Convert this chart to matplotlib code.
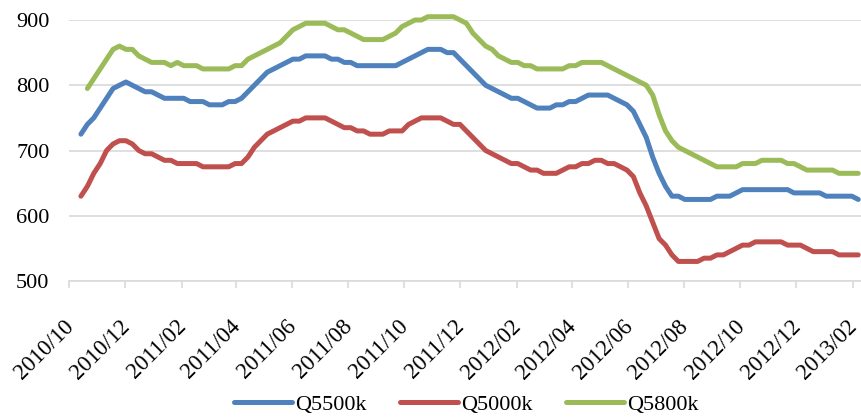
import numpy as np
import pandas as pd
import matplotlib
matplotlib.use("Agg")
import matplotlib.pyplot as plt
import matplotlib.dates as mdates
import matplotlib.transforms as mtransforms

plt.rcParams['font.family'] = ['Liberation Serif', 'DejaVu Serif']

# weekly prices, starting 2010-10-14
dates = pd.date_range('2010-10-14', periods=122, freq='7D')

q5500 = [725, 740, 750, 765, 780, 795, 800, 805, 800, 795,
         790, 790, 785, 780, 780, 780, 780, 775, 775, 775,
         770, 770, 770, 775, 775, 780, 790, 800, 810, 820,
         825, 830, 835, 840, 840, 845, 845, 845, 845, 840,
         840, 835, 835, 830, 830, 830, 830, 830, 830, 830,
         835, 840, 845, 850, 855, 855, 855, 850, 850, 840,
         830, 820, 810, 800, 795, 790, 785, 780, 780, 775,
         770, 765, 765, 765, 770, 770, 775, 775, 780, 785,
         785, 785, 785, 780, 775, 770, 760, 740, 720, 690,
         665, 645, 630, 630, 625, 625, 625, 625, 625, 630,
         630, 630, 635, 640, 640, 640, 640, 640, 640, 640,
         640, 635, 635, 635, 635, 635, 630, 630, 630, 630,
         630, 625]

q5000 = [630, 645, 665, 680, 700, 710, 715, 715, 710, 700,
         695, 695, 690, 685, 685, 680, 680, 680, 680, 675,
         675, 675, 675, 675, 680, 680, 690, 705, 715, 725,
         730, 735, 740, 745, 745, 750, 750, 750, 750, 745,
         740, 735, 735, 730, 730, 725, 725, 725, 730, 730,
         730, 740, 745, 750, 750, 750, 750, 745, 740, 740,
         730, 720, 710, 700, 695, 690, 685, 680, 680, 675,
         670, 670, 665, 665, 665, 670, 675, 675, 680, 680,
         685, 685, 680, 680, 675, 670, 660, 635, 615, 590,
         565, 555, 540, 530, 530, 530, 530, 535, 535, 540,
         540, 545, 550, 555, 555, 560, 560, 560, 560, 560,
         555, 555, 555, 550, 545, 545, 545, 545, 540, 540,
         540, 540]

q5800 = [np.nan, 795, 810, 825, 840, 855, 860, 855, 855, 845,
         840, 835, 835, 835, 830, 835, 830, 830, 830, 825,
         825, 825, 825, 825, 830, 830, 840, 845, 850, 855,
         860, 865, 875, 885, 890, 895, 895, 895, 895, 890,
         885, 885, 880, 875, 870, 870, 870, 870, 875, 880,
         890, 895, 900, 900, 905, 905, 905, 905, 905, 900,
         895, 880, 870, 860, 855, 845, 840, 835, 835, 830,
         830, 825, 825, 825, 825, 825, 830, 830, 835, 835,
         835, 835, 830, 825, 820, 815, 810, 805, 800, 785,
         755, 730, 715, 705, 700, 695, 690, 685, 680, 675,
         675, 675, 675, 680, 680, 680, 685, 685, 685, 685,
         680, 680, 675, 670, 670, 670, 670, 670, 665, 665,
         665, 665]

series = ['Q5500k', 'Q5000k', 'Q5800k']
colors = ['#4F81BD', '#C0504D', '#9BBB59']

fig = plt.figure(figsize=(8.61, 4.18), dpi=100)
ax = fig.add_axes([69 / 861, 137 / 418, 792 / 861, 261 / 418])

for vals, name, c in zip([q5500, q5000, q5800], series, colors):
    ax.plot(dates, vals, color=c, lw=3.6, label=name, solid_capstyle='round', clip_on=False)

ax.set_ylim(500, 900)
ax.set_yticks([500, 600, 700, 800, 900])
ax.set_xlim(pd.Timestamp('2010-10-01'), pd.Timestamp('2013-02-10'))
ticks = pd.date_range('2010-10-01', '2013-02-01', freq='2MS')
ax.set_xticks(ticks)
ax.xaxis.set_major_formatter(mdates.DateFormatter('%Y/%m'))

ax.grid(axis='y', color='#D9D9D9', lw=1.2)
ax.set_axisbelow(True)
for s in ['top', 'right', 'left']:
    ax.spines[s].set_visible(False)
ax.spines['bottom'].set_color('#D9D9D9')
ax.spines['bottom'].set_linewidth(1.2)
ax.tick_params(axis='y', length=0, labelsize=16, pad=14)
ax.tick_params(axis='x', length=5, width=1.2, color='#D9D9D9', labelsize=16.5, pad=20)

# shift rotated labels a bit to the left of the tick
shift = mtransforms.ScaledTranslation(-6 / 100, 0, fig.dpi_scale_trans)
for lab in ax.get_xticklabels():
    lab.set_rotation(45)
    lab.set_ha('right')
    lab.set_va('top')
    lab.set_rotation_mode('anchor')
    lab.set_transform(lab.get_transform() + shift)

fig.legend(loc='lower center', bbox_to_anchor=(0.542, -0.04), ncol=3, frameon=False,
           fontsize=16, handlelength=2.6, handletextpad=0.15, columnspacing=1.5)

fig.savefig('out.png', dpi=100)
